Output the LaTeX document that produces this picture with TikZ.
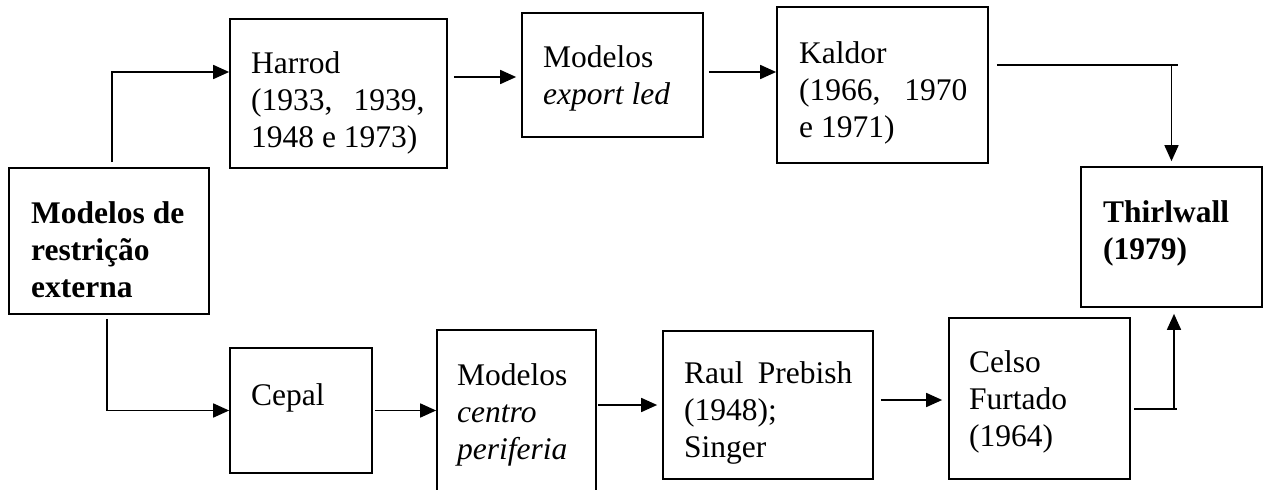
\documentclass[tikz,border=0pt]{standalone}
\usepackage{fontspec}
\setmainfont{Liberation Serif}
\usetikzlibrary{arrows.meta}
\begin{document}
\begin{tikzpicture}[x=1pt,y=-1pt,
  box/.style={draw, line width=1.7pt, inner sep=0pt},
  txt/.style={anchor=north west, inner sep=0pt, align=left, font=\fontsize{31.5}{37}\selectfont},
  txtb/.style={txt, font=\fontsize{31.5}{37}\selectfont\bfseries},
  con/.style={line width=1.7pt},
  arr/.style={con, -{Triangle[length=16pt,width=14pt]}}]
\useasboundingbox (0,0) rectangle (1264,490);
% boxes
\node[box, minimum width=200pt, minimum height=146pt] (ext) at (109,241) {};
\node[box, minimum width=217pt, minimum height=149pt] (har) at (338.5,93.5) {};
\node[box, minimum width=181pt, minimum height=124pt] (exp) at (612.5,75) {};
\node[box, minimum width=211pt, minimum height=156pt] (kal) at (882.5,85) {};
\node[box, minimum width=181pt, minimum height=140pt] (thi) at (1171.5,237) {};
\node[box, minimum width=142pt, minimum height=125pt] (cep) at (301,410.5) {};
\node[box, minimum width=159pt, minimum height=170pt] (cen) at (516.5,415) {};
\node[box, minimum width=210pt, minimum height=148pt] (rau) at (768,405) {};
\node[box, minimum width=181pt, minimum height=161pt] (cel) at (1039.5,398.5) {};
% texts
\node[txtb] (ext-t) at (31,197.1) {\strut Modelos de\\restrição\\externa};
\node[txt] (har-t) at (251,47.1) {\strut Harrod\\(1933,\hspace{0.67em}1939,\\1948 e 1973)};
\node[txt] (exp-t) at (543,41.1) {\strut Modelos\\\textit{export led}};
\node[txt] (kal-t) at (799,37.1) {\strut Kaldor\\(1966,\hspace{0.76em}1970\\e 1971)};
\node[txtb] (thi-t) at (1103,196.1) {\strut Thirlwall\\(1979)};
\node[txt] (cep-t) at (251,379.1) {\strut Cepal};
\node[txt] (cen-t) at (457,359.1) {\strut Modelos\\\textit{centro}\\\textit{periferia}};
\node[txt] (rau-t) at (684,357.1) {\strut Raul\hspace{0.45em}Prebish\\(1948);\\Singer};
\node[txt] (cel-t) at (969,346.1) {\strut Celso\\Furtado\\(1964)};
% connectors
\draw[arr, shorten <=5pt] ([xshift=3pt]ext.north) |- ([yshift=21.5pt]har.west);
\draw[arr, shorten <=6pt, shorten >=5pt] ([yshift=-2pt]har.east |- exp.west) -- ([yshift=-2pt]exp.west);
\draw[arr, shorten <=5pt] ([yshift=3pt]exp.east) -- ([yshift=3pt]exp.east -| kal.west);
\coordinate (k1) at ([xshift=8pt,yshift=20pt]kal.east);
\coordinate (k2) at (k1 -| thi.north);
\draw[con] (k1) -- ([xshift=6pt]k2);
\draw[arr, shorten >=5pt] (k2) -- (thi.north);
\draw[arr] ([xshift=-2pt,yshift=-4pt]ext.south) |- (cep.west);
\draw[arr, shorten <=2pt] (cep.east) -- (cep.east -| cen.west);
\draw[arr, shorten <=1pt, shorten >=5pt] (cen.east |- rau.west) -- (rau.west);
\draw[arr, shorten <=7pt, shorten >=6pt] ([yshift=5pt]rau.east) -- ([yshift=5pt]rau.east -| cel.west);
\coordinate (c1) at ([xshift=3pt,yshift=-10.5pt]cel.east);
\coordinate (c2) at (c1 -| thi.south);
\draw[con] (c1) -- ([xshift=5.5pt]c2);
\draw[arr, shorten >=6pt] ([xshift=2.5pt]c2) -- ([xshift=2.5pt]thi.south);
\end{tikzpicture}
\end{document}
